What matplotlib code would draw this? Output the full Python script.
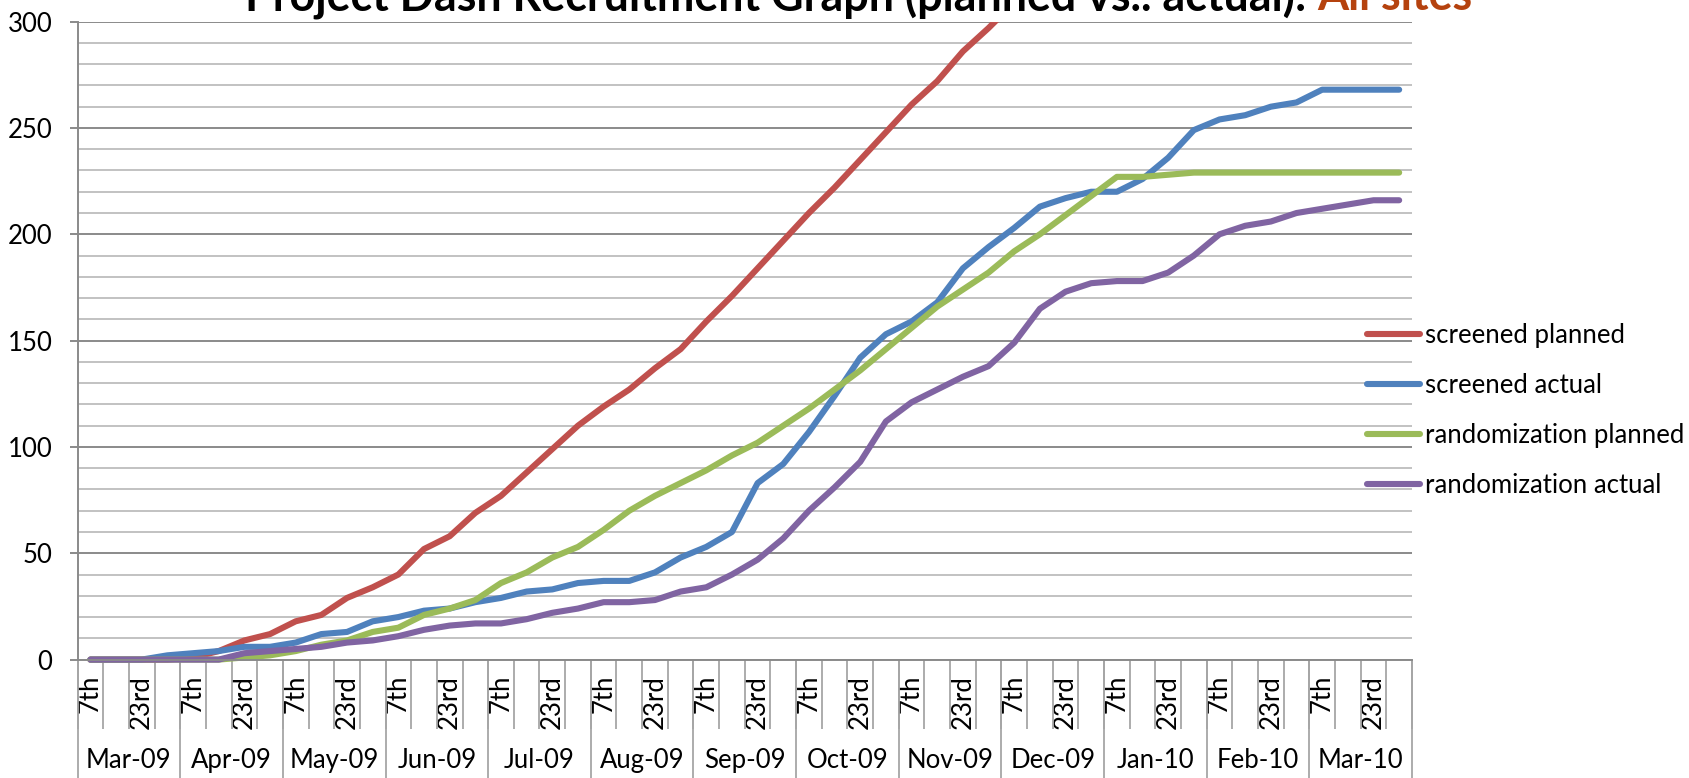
import numpy as np
import matplotlib
matplotlib.use('Agg')
from matplotlib import pyplot as plt
from matplotlib.patches import Rectangle
from matplotlib.ticker import MultipleLocator

plt.rcParams['font.family'] = ['Lato', 'DejaVu Sans']

# weekly points, 4 per month; only 7th and 23rd are labelled
months = ['Mar-09', 'Apr-09', 'May-09', 'Jun-09', 'Jul-09', 'Aug-09', 'Sep-09',
          'Oct-09', 'Nov-09', 'Dec-09', 'Jan-10', 'Feb-10', 'Mar-10']
week_labels = ['7th', '', '23rd', '']

screened_planned = [0, 0, 0, 0, 1, 4, 9, 12, 18, 21, 29, 34, 40, 52, 58, 69,
                    77, 88, 99, 110, 119, 127, 137, 146, 159, 171, 184, 197, 210, 222,
                    235, 248, 261, 272, 286, 297, 309, 321]
screened_actual = [0, 0, 0, 2, 3, 4, 6, 6, 8, 12, 13, 18, 20, 23, 24, 27,
                   29, 32, 33, 36, 37, 37, 41, 48, 53, 60, 83, 92, 107, 124, 142, 153, 159, 168,
                   184, 194, 203, 213, 217, 220, 220, 226, 236, 249, 254, 256, 260, 262, 268, 268, 268, 268]
random_planned = [0, 0, 0, 0, 0, 0, 1, 2, 4, 7, 9, 13, 15, 21, 24, 28,
                  36, 41, 48, 53, 61, 70, 77, 83, 89, 96, 102, 110, 118, 127, 136, 146, 156, 166,
                  174, 182, 192, 200, 209, 218, 227, 227, 228, 229, 229, 229, 229, 229, 229, 229, 229, 229]
random_actual = [0, 0, 0, 0, 0, 0, 3, 4, 5, 6, 8, 9, 11, 14, 16, 17,
                 17, 19, 22, 24, 27, 27, 28, 32, 34, 40, 47, 57, 70, 81, 93, 112, 121, 127,
                 133, 138, 149, 165, 173, 177, 178, 178, 182, 190, 200, 204, 206, 210, 212, 214, 216, 216]

series = [
    ('screened planned', screened_planned, '#C0504D'),
    ('screened actual', screened_actual, '#4F81BD'),
    ('randomization planned', random_planned, '#9BBB59'),
    ('randomization actual', random_actual, '#8064A2'),
]

n = len(months) * 4
inner = [week_labels[i % 4] for i in range(n)]

fig = plt.figure(figsize=(16.9, 7.78), dpi=100)
ax = fig.add_axes([0.0459, 0.1522, 0.7896, 0.82])

# let lines sit on the zero line without being cut in half, but clip at 300
clip = Rectangle((-0.02, -0.05), 1.04, 1.05, transform=ax.transAxes, visible=False)
ax.add_patch(clip)
for name, vals, col in series:
    line, = ax.plot(range(len(vals)), vals, color=col, lw=4.4, label=name,
                    solid_capstyle='round', solid_joinstyle='round')
    line.set_clip_path(clip)

ax.set_xlim(-0.5, n - 0.5)
ax.set_ylim(0, 300)
ax.set_yticks(range(0, 301, 50))
ax.yaxis.set_minor_locator(MultipleLocator(10))
ax.set_axisbelow(True)
ax.grid(which='minor', axis='y', color='#C2C2C2', lw=1.4)
ax.grid(which='major', axis='y', color='#8A8A8A', lw=1.4)

for s in ['top', 'right']:
    ax.spines[s].set_visible(False)
for s in ['left', 'bottom']:
    ax.spines[s].set_color('#8A8A8A')
    ax.spines[s].set_linewidth(1.4)

ax.tick_params(axis='y', which='major', length=6, width=1.4, color='#8A8A8A',
               pad=12, labelsize=18.5)
ax.tick_params(axis='y', which='minor', length=0)

ax.set_xticks(range(n), labels=inner)
ax.set_xticks(np.arange(-0.5, n, 1), minor=True)
ax.tick_params(axis='x', which='major', length=0, pad=11, labelsize=18.5, labelrotation=90)
ax.tick_params(axis='x', which='minor', length=50, width=1.3, color='#A6A6A6')

# month level of the category axis
sec = ax.secondary_xaxis('bottom')
sec.spines['bottom'].set_visible(False)
sec.set_xticks(np.arange(-0.5, n, 4), labels=[''] * (len(months) + 1))
sec.set_xticks(np.arange(1.5, n, 4), labels=months, minor=True)
sec.tick_params(which='major', length=86, width=1.3, color='#A6A6A6')
sec.tick_params(which='minor', length=0, pad=64, labelsize=18.5)

ax.legend(loc='center left', bbox_to_anchor=(0.8089, 0.4727), bbox_transform=fig.transFigure,
          frameon=False, fontsize=18.5, handlelength=2.05, handletextpad=0.2,
          borderpad=0, borderaxespad=0, labelspacing=0.97)

t1 = fig.text(0.145, 0.987, 'Project Dash Recruitment Graph (planned vs.. actual): ',
              fontsize=32.3, fontweight='bold', va='baseline')
fig.canvas.draw()
bb = t1.get_window_extent()
fig.text(bb.x1 / fig.bbox.width, 0.987, 'All sites', fontsize=32.3, fontweight='bold',
         va='baseline', color='#B5420E')

plt.savefig('out.png', dpi=100)
plt.close()
